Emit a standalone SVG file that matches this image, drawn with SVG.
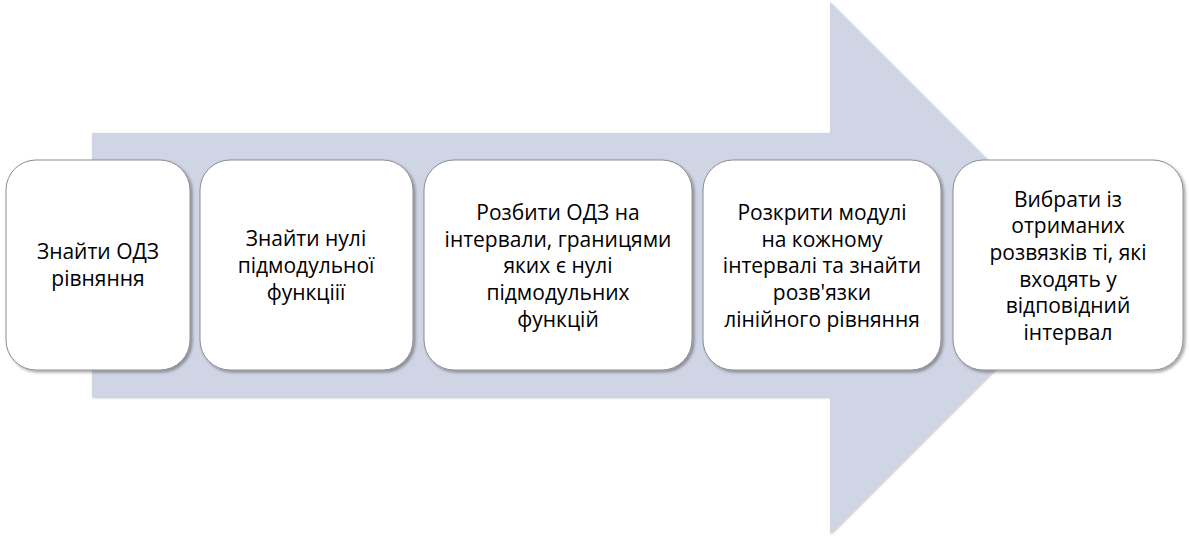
<svg xmlns="http://www.w3.org/2000/svg" width="1189" height="536" viewBox="0 0 1189 536">
  <defs>
    <filter id="sh" x="-10%" y="-10%" width="120%" height="120%">
      <feDropShadow dx="2" dy="2" stdDeviation="1.5" flood-color="#000" flood-opacity="0.35"/>
    </filter>
    <filter id="ash" x="-5%" y="-5%" width="110%" height="110%">
      <feDropShadow dx="1" dy="1" stdDeviation="1" flood-color="#000" flood-opacity="0.25"/>
    </filter>
  </defs>
  <style>
    .box { fill: #ffffff; stroke: #8c8c8c; stroke-width: 1; filter: url(#sh); }
    .t { font-family: "Open Sans", "Liberation Sans", sans-serif; font-size: 21px; fill: #000; text-anchor: middle; }
  </style>
  <rect width="1189" height="536" fill="#ffffff"/>
  <g id="connectors">
    <path d="M92,133 L830,133 L830,2 L1096,268 L830,534 L830,397 L92,397 Z" fill="#cfd5e4" filter="url(#ash)"/>
  </g>
  <g id="n1">
    <rect class="box" x="6" y="160" width="184" height="210" rx="30" ry="30"/>
    <text class="t" x="98" y="259">Знайти ОДЗ</text>
    <text class="t" x="98" y="286">рівняння</text>
  </g>
  <g id="n2">
    <rect class="box" x="200" y="160" width="213" height="210" rx="30" ry="30"/>
    <text class="t" x="306" y="246">Знайти нулі</text>
    <text class="t" x="306" y="273">підмодульної</text>
    <text class="t" x="306" y="300">функціії</text>
  </g>
  <g id="n3">
    <rect class="box" x="424" y="160" width="268" height="210" rx="30" ry="30"/>
    <text class="t" x="558" y="220">Розбити ОДЗ на</text>
    <text class="t" x="558" y="247">інтервали, границями</text>
    <text class="t" x="558" y="273">яких є нулі</text>
    <text class="t" x="558" y="300">підмодульних</text>
    <text class="t" x="558" y="327">функцій</text>
  </g>
  <g id="n4">
    <rect class="box" x="703" y="160" width="238" height="210" rx="30" ry="30"/>
    <text class="t" x="822" y="220">Розкрити модулі</text>
    <text class="t" x="822" y="247">на кожному</text>
    <text class="t" x="822" y="273">інтервалі та знайти</text>
    <text class="t" x="822" y="300">розв'язки</text>
    <text class="t" x="822" y="327">лінійного рівняння</text>
  </g>
  <g id="n5">
    <rect class="box" x="953" y="160" width="230" height="210" rx="30" ry="30"/>
    <text class="t" x="1068" y="207">Вибрати із</text>
    <text class="t" x="1068" y="233">отриманих</text>
    <text class="t" x="1068" y="260">розвязків ті, які</text>
    <text class="t" x="1068" y="287">входять у</text>
    <text class="t" x="1068" y="313">відповідний</text>
    <text class="t" x="1068" y="340">інтервал</text>
  </g>
</svg>
